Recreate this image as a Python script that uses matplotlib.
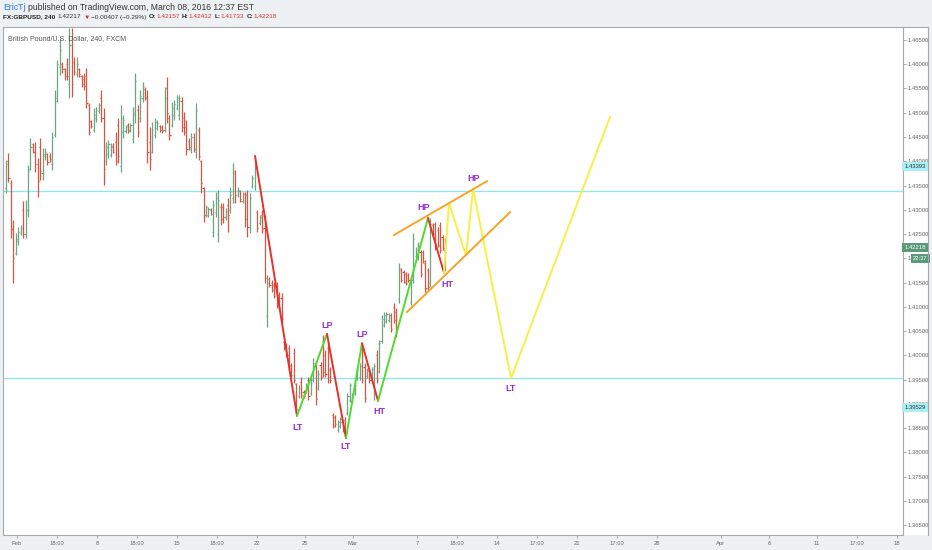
import numpy as np
import matplotlib
matplotlib.use('Agg')
import matplotlib.pyplot as plt
from matplotlib.transforms import IdentityTransform
from matplotlib.patches import Rectangle
from matplotlib.lines import Line2D

plt.rcParams['font.family'] = ['Liberation Sans', 'DejaVu Sans']

# GBPUSD 4h bars, Feb 1 - Mar 8 2016
highs = [1.4403, 1.4417, 1.4361, 1.4279, 1.4252, 1.4264, 1.4269, 1.4318, 1.4320, 1.4392,
         1.4448, 1.4438, 1.4440, 1.4407, 1.4448, 1.4427, 1.4427, 1.4417, 1.4417, 1.4460,
         1.4547, 1.4609, 1.4654, 1.4605, 1.4592, 1.4613, 1.4675, 1.4675, 1.4615, 1.4615,
         1.4592, 1.4578, 1.4582, 1.4592, 1.4520, 1.4485, 1.4510, 1.4512, 1.4520, 1.4547,
         1.4510, 1.4440, 1.4444, 1.4438, 1.4438, 1.4460, 1.4489, 1.4516, 1.4495, 1.4475,
         1.4479, 1.4479, 1.4512, 1.4582, 1.4516, 1.4547, 1.4563, 1.4553, 1.4547, 1.4471,
         1.4481, 1.4489, 1.4485, 1.4475, 1.4475, 1.4553, 1.4574, 1.4495, 1.4522, 1.4526,
         1.4537, 1.4537, 1.4532, 1.4502, 1.4485, 1.4448, 1.4458, 1.4458, 1.4520, 1.4471,
         1.4403, 1.4347, 1.4310, 1.4306, 1.4304, 1.4320, 1.4337, 1.4341, 1.4314, 1.4314,
         1.4304, 1.4324, 1.4347, 1.4396, 1.4382, 1.4347, 1.4341, 1.4337, 1.4337, 1.4341,
         1.4335, 1.4372, 1.4403, 1.4300, 1.4289, 1.4300, 1.4289, 1.4166, 1.4161, 1.4155,
         1.4151, 1.4151, 1.4130, 1.4128, 1.4031, 1.4025, 1.4021, 1.3984, 1.4015, 1.3943,
         1.3939, 1.3955, 1.3928, 1.3943, 1.3955, 1.3955, 1.3994, 1.3984, 1.3970, 1.3986,
         1.4042, 1.4011, 1.4027, 1.3976, 1.3881, 1.3877, 1.3867, 1.3873, 1.3867, 1.3873,
         1.3922, 1.3943, 1.3922, 1.3943, 1.3974, 1.3984, 1.4025, 1.3984, 1.3974, 1.3974,
         1.3976, 1.3984, 1.4011, 1.4031, 1.4083, 1.4089, 1.4089, 1.4087, 1.4087, 1.4108,
         1.4098, 1.4190, 1.4180, 1.4176, 1.4172, 1.4170, 1.4161, 1.4252, 1.4223, 1.4234,
         1.4217, 1.4217, 1.4196, 1.4180, 1.4283, 1.4273, 1.4275, 1.4264, 1.4275, 1.4248,
         1.4241]
lows = [1.4335, 1.4357, 1.4242, 1.4149, 1.4207, 1.4227, 1.4248, 1.4242, 1.4242, 1.4285,
        1.4382, 1.4417, 1.4378, 1.4326, 1.4361, 1.4361, 1.4403, 1.4392, 1.4399, 1.4382,
        1.4450, 1.4522, 1.4578, 1.4582, 1.4568, 1.4568, 1.4530, 1.4532, 1.4578, 1.4574,
        1.4574, 1.4553, 1.4547, 1.4510, 1.4454, 1.4469, 1.4460, 1.4481, 1.4500, 1.4481,
        1.4351, 1.4392, 1.4407, 1.4409, 1.4417, 1.4392, 1.4396, 1.4378, 1.4448, 1.4458,
        1.4458, 1.4460, 1.4438, 1.4479, 1.4450, 1.4481, 1.4522, 1.4526, 1.4396, 1.4382,
        1.4417, 1.4448, 1.4464, 1.4460, 1.4458, 1.4460, 1.4479, 1.4444, 1.4471, 1.4485,
        1.4506, 1.4485, 1.4460, 1.4454, 1.4413, 1.4423, 1.4417, 1.4419, 1.4407, 1.4403,
        1.4335, 1.4275, 1.4285, 1.4285, 1.4289, 1.4244, 1.4285, 1.4234, 1.4269, 1.4273,
        1.4279, 1.4254, 1.4294, 1.4314, 1.4314, 1.4326, 1.4316, 1.4314, 1.4264, 1.4244,
        1.4252, 1.4345, 1.4341, 1.4254, 1.4269, 1.4252, 1.4149, 1.4058, 1.4141, 1.4130,
        1.4118, 1.4098, 1.4093, 1.4067, 1.4011, 1.3996, 1.3970, 1.3955, 1.3943, 1.3880,
        1.3912, 1.3912, 1.3912, 1.3922, 1.3908, 1.3918, 1.3945, 1.3897, 1.3928, 1.3949,
        1.3955, 1.3955, 1.3943, 1.3943, 1.3850, 1.3852, 1.3842, 1.3850, 1.3842, 1.3831,
        1.3877, 1.3904, 1.3902, 1.3918, 1.3949, 1.3949, 1.3943, 1.3904, 1.3953, 1.3943,
        1.3943, 1.3908, 1.3943, 1.3963, 1.4025, 1.4058, 1.4067, 1.4069, 1.4048, 1.4067,
        1.4038, 1.4108, 1.4151, 1.4149, 1.4145, 1.4151, 1.4104, 1.4149, 1.4201, 1.4196,
        1.4161, 1.4190, 1.4130, 1.4135, 1.4141, 1.4244, 1.4217, 1.4223, 1.4211, 1.4217,
        1.4173]
opens = [1.4345, 1.4400, 1.4355, 1.4260, 1.4210, 1.4235, 1.4252, 1.4300, 1.4250, 1.4300,
         1.4385, 1.4435, 1.4420, 1.4395, 1.4430, 1.4375, 1.4410, 1.4415, 1.4410, 1.4395,
         1.4455, 1.4525, 1.4595, 1.4600, 1.4590, 1.4600, 1.4560, 1.4640, 1.4605, 1.4580,
         1.4590, 1.4575, 1.4570, 1.4575, 1.4515, 1.4482, 1.4465, 1.4490, 1.4503, 1.4530,
         1.4490, 1.4400, 1.4415, 1.4412, 1.4432, 1.4440, 1.4475, 1.4390, 1.4460, 1.4462,
         1.4475, 1.4463, 1.4445, 1.4495, 1.4505, 1.4490, 1.4530, 1.4548, 1.4530, 1.4440,
         1.4420, 1.4455, 1.4468, 1.4472, 1.4470, 1.4465, 1.4550, 1.4490, 1.4475, 1.4495,
         1.4510, 1.4495, 1.4525, 1.4490, 1.4470, 1.4442, 1.4425, 1.4450, 1.4420, 1.4465,
         1.4400, 1.4345, 1.4290, 1.4290, 1.4300, 1.4255, 1.4295, 1.4250, 1.4305, 1.4305,
         1.4285, 1.4310, 1.4300, 1.4325, 1.4375, 1.4330, 1.4338, 1.4318, 1.4332, 1.4330,
         1.4265, 1.4350, 1.4350, 1.4295, 1.4272, 1.4290, 1.4262, 1.4080, 1.4158, 1.4150,
         1.4145, 1.4140, 1.4125, 1.4118, 1.4028, 1.4020, 1.4015, 1.3980, 1.4005, 1.3940,
         1.3915, 1.3945, 1.3925, 1.3925, 1.3948, 1.3922, 1.3950, 1.3978, 1.3932, 1.3980,
         1.4030, 1.4000, 1.4015, 1.3970, 1.3876, 1.3872, 1.3846, 1.3855, 1.3862, 1.3866,
         1.3880, 1.3908, 1.3905, 1.3920, 1.3952, 1.3955, 1.4010, 1.3975, 1.3957, 1.3968,
         1.3948, 1.3940, 1.4000, 1.3968, 1.4030, 1.4062, 1.4070, 1.4072, 1.4082, 1.4100,
         1.4090, 1.4115, 1.4175, 1.4172, 1.4168, 1.4165, 1.4110, 1.4155, 1.4205, 1.4200,
         1.4212, 1.4212, 1.4190, 1.4175, 1.4150, 1.4268, 1.4270, 1.4258, 1.4268, 1.4244,
         1.4216]
closes = [1.4395, 1.4365, 1.4260, 1.4200, 1.4240, 1.4255, 1.4262, 1.4250, 1.4300, 1.4380,
          1.4430, 1.4420, 1.4395, 1.4360, 1.4380, 1.4415, 1.4420, 1.4398, 1.4405, 1.4450,
          1.4530, 1.4600, 1.4630, 1.4590, 1.4575, 1.4575, 1.4640, 1.4560, 1.4585, 1.4600,
          1.4580, 1.4560, 1.4555, 1.4520, 1.4460, 1.4472, 1.4495, 1.4505, 1.4515, 1.4490,
          1.4385, 1.4430, 1.4435, 1.4430, 1.4420, 1.4400, 1.4410, 1.4490, 1.4485, 1.4470,
          1.4465, 1.4475, 1.4500, 1.4565, 1.4460, 1.4535, 1.4555, 1.4532, 1.4420, 1.4405,
          1.4465, 1.4480, 1.4478, 1.4465, 1.4462, 1.4530, 1.4500, 1.4455, 1.4510, 1.4518,
          1.4530, 1.4530, 1.4470, 1.4460, 1.4425, 1.4430, 1.4450, 1.4425, 1.4505, 1.4410,
          1.4355, 1.4290, 1.4305, 1.4302, 1.4292, 1.4310, 1.4325, 1.4320, 1.4280, 1.4285,
          1.4298, 1.4290, 1.4330, 1.4380, 1.4330, 1.4340, 1.4322, 1.4332, 1.4280, 1.4265,
          1.4325, 1.4365, 1.4390, 1.4262, 1.4285, 1.4260, 1.4160, 1.4150, 1.4145, 1.4135,
          1.4122, 1.4105, 1.4098, 1.4075, 1.4015, 1.4000, 1.3978, 1.3960, 1.3950, 1.3890,
          1.3932, 1.3918, 1.3915, 1.3938, 1.3915, 1.3948, 1.3985, 1.3910, 1.3962, 1.3955,
          1.3965, 1.3962, 1.3950, 1.3948, 1.3855, 1.3858, 1.3862, 1.3868, 1.3846, 1.3838,
          1.3915, 1.3938, 1.3918, 1.3938, 1.3970, 1.3978, 1.3950, 1.3912, 1.3970, 1.3948,
          1.3972, 1.3978, 1.3950, 1.4025, 1.4075, 1.4082, 1.4085, 1.4083, 1.4055, 1.4072,
          1.4045, 1.4180, 1.4155, 1.4152, 1.4150, 1.4155, 1.4155, 1.4240, 1.4218, 1.4228,
          1.4168, 1.4195, 1.4138, 1.4140, 1.4270, 1.4250, 1.4225, 1.4228, 1.4218, 1.4222,
          1.4222]

# drawn swing lines (x in trading days since Feb 1, y in price)
swing_x = [14.875, 17.5, 19.375, 20.5625, 21.5625, 22.5625, 25.6875, 26.6875]
swing_y = [1.4411, 1.3875, 1.4044, 1.3829, 1.4025, 1.3906, 1.4283, 1.4170]
proj_x = [26.6875, 27.0, 28.0625, 28.5, 30.875, 37.0625]
proj_y = [1.4170, 1.4314, 1.4205, 1.4343, 1.3953, 1.4491]
chan_up_x, chan_up_y = [23.5625, 29.375], [1.4248, 1.4359]
chan_lo_x, chan_lo_y = [24.375, 30.8125], [1.4089, 1.4295]
levels = [1.43393, 1.39529]
last_price = 1.42218

swing_labels = ['LT', 'LP', 'LT', 'LP', 'HT', 'HP', 'HT', 'HP', 'LT']
label_x = [17.56, 19.375, 20.56, 21.56, 22.625, 25.44, 26.875, 28.56, 30.875]
label_y = [1.3852, 1.4062, 1.3811, 1.4042, 1.3885, 1.4304, 1.4145, 1.4365, 1.3932]

xtick_pos = [0, 2.5, 5, 7.5, 10, 12.5, 15, 18, 21, 25, 27.5, 30, 32.5, 35, 37.5, 40,
             44, 47, 50, 52.5, 55]
xtick_lab = ['Feb', '18:00', '8', '18:00', '15', '18:00', '22', '25', 'Mar', '7', '18:00',
             '14', '17:00', '21', '17:00', '28', 'Apr', '6', '11', '17:00', '18']

W, H = 932, 550
fig = plt.figure(figsize=(W / 100, H / 100), dpi=100, facecolor='#eef1f4')
# price scale strip
fig.patches.append(Rectangle((903 / W, 15 / H), 25 / W, 508 / H, transform=fig.transFigure,
                             facecolor='white', edgecolor='none', zorder=-5))
ax = fig.add_axes([3 / W, 15 / H, 900 / W, 508 / H])
ax.set_facecolor('white')

n = len(highs)
x = np.linspace(-0.6875, 26.75, n)
up_col, dn_col = '#6ba583', '#d75442'
cols = [up_col if c >= o else dn_col for o, c in zip(opens, closes)]
tk = 0.07
ax.vlines(x, lows, highs, colors=cols, lw=0.9, zorder=2)
ax.hlines(opens, x - tk, x, colors=cols, lw=0.9, zorder=2)
ax.hlines(closes, x, x + tk, colors=cols, lw=0.9, zorder=2)

for lv in levels:
    ax.axhline(lv, color='#8ae6ef', lw=0.9, zorder=1)

seg_cols = ['#e5322d', '#4ddb2e', '#e5322d', '#4ddb2e', '#e5322d', '#4ddb2e', '#e5322d']
for i in range(len(swing_x) - 1):
    ax.plot(swing_x[i:i + 2], swing_y[i:i + 2], color=seg_cols[i], lw=1.4, zorder=3,
            solid_capstyle='round')
ax.plot(proj_x, proj_y, color='#f6f046', lw=1.4, zorder=3)
ax.plot(chan_up_x, chan_up_y, color='#f5a32a', lw=1.4, zorder=3)
ax.plot(chan_lo_x, chan_lo_y, color='#f5a32a', lw=1.4, zorder=3)

for s, lx, ly in zip(swing_labels, label_x, label_y):
    ax.text(lx, ly, s, color='#9b2fd0', fontsize=6.5, fontweight='bold',
            ha='center', va='center', zorder=4)

ax.set_xlim(-0.875, 55.375)
ax.set_ylim(1.36294, 1.46768)
ax.set_xticks(xtick_pos, xtick_lab)
yt = np.arange(1.365, 1.4651, 0.005)
ax.set_yticks(yt, ['%.5f' % v for v in yt])
ax.yaxis.tick_right()
ax.tick_params(axis='x', length=2.5, width=0.6, color='#999999', labelsize=4.2,
               labelcolor='#666666', pad=1.5)
ax.tick_params(axis='y', length=2, width=0.6, color='#999999', labelsize=4.2,
               labelcolor='#666666', pad=1)
for sp in ax.spines.values():
    sp.set_color('#a9a9a9')
    sp.set_linewidth(0.8)

# price scale labels
ytr = ax.get_yaxis_transform()
box_kw = dict(transform=ytr, fontsize=4.2, va='center', ha='left', zorder=5, clip_on=False)
ax.text(1.0015, 1.4390, '1.43393', color='#333333',
        bbox=dict(boxstyle='square,pad=0.35', fc='#a8f0f6', ec='none'), **box_kw)
ax.text(1.0015, 1.3893, '1.39529', color='#333333',
        bbox=dict(boxstyle='square,pad=0.35', fc='#a8f0f6', ec='none'), **box_kw)
ax.text(1.0015, last_price, '%.5f' % last_price, color='white',
        bbox=dict(boxstyle='square,pad=0.35', fc='#5a9a78', ec='none'), **box_kw)
ax.text(1.011, 1.4200, '22:37', color='white',
        bbox=dict(boxstyle='square,pad=0.35', fc='#5a9a78', ec='none'), **box_kw)

fig.lines.append(Line2D([928 / W, 928 / W], [15 / H, 523 / H], transform=fig.transFigure,
                        color='#a9a9a9', lw=0.8))
fig.lines.append(Line2D([903 / W, 928 / W], [523 / H, 523 / H], transform=fig.transFigure,
                        color='#a9a9a9', lw=0.8))

ax.text(0.005, 0.985, 'British Pound/U.S. Dollar, 240, FXCM', transform=ax.transAxes,
        fontsize=5.0, color='#555555', va='top', ha='left')

# header lines, scaled to the width they take in the screenshot
rend = fig.canvas.get_renderer()


def put(parts, x0, y0, target):
    size = 6.0
    for attempt in range(2):
        arts = []
        xx = x0
        for s, c, w, gap in parts:
            t = fig.text(xx, H - y0, s, transform=IdentityTransform(), fontsize=size,
                         color=c, fontweight=w, va='center', ha='left')
            arts.append(t)
            xx = t.get_window_extent(rend).x1 + gap
        if attempt == 0:
            size *= (target - x0) / (xx - x0)
            for a in arts:
                a.remove()


put([('EricTj', '#2c7ad6', 'normal', 2.2),
     ('published on TradingView.com, March 08, 2016 12:37 EST', '#333333', 'normal', 0)],
    3, 7, 256)
red = '#d0302a'
put([('FX:GBPUSD, 240', '#222222', 'bold', 2.5), ('1.42217', '#333333', 'normal', 2),
     ('\u25bc', red, 'normal', 1.5), ('\u22120.00407 (\u22120.29%)', '#333333', 'normal', 2),
     ('O:', '#222222', 'bold', 0.5), ('1.42157', red, 'normal', 2),
     ('H:', '#222222', 'bold', 0.5), ('1.42412', red, 'normal', 2),
     ('L:', '#222222', 'bold', 0.5), ('1.41733', red, 'normal', 2),
     ('C:', '#222222', 'bold', 0.5), ('1.42218', red, 'normal', 0)], 3, 17, 276)

fig.savefig('out.png', dpi=100, facecolor=fig.get_facecolor())
